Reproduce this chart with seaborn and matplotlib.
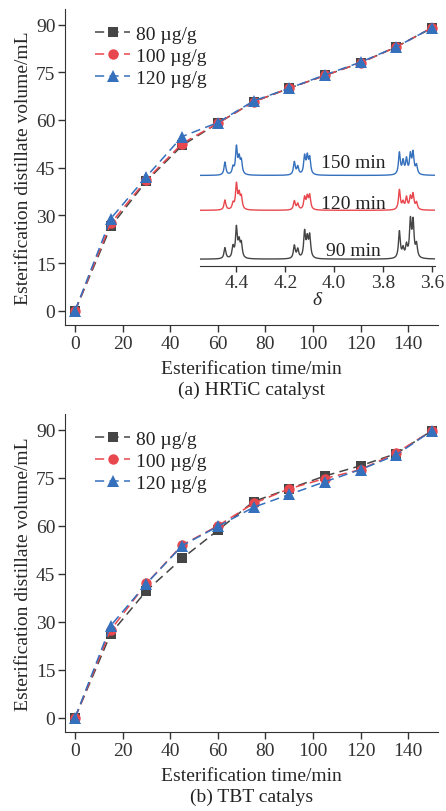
import numpy as np
import pandas as pd
import matplotlib
matplotlib.use("Agg")
import matplotlib.pyplot as plt
import seaborn as sns

# esterification data
time_min = [0, 15, 30, 45, 60, 75, 90, 105, 120, 135, 150]
labels = ['80 µg/g', '100 µg/g', '120 µg/g']
colors = ['#454545', '#e8474e', '#3570bd']
markers = ['s', 'o', '^']

hrtic_80 = [0, 26.5, 40.8, 52.0, 59.0, 65.7, 70.0, 74.0, 78.0, 83.0, 89.0]
hrtic_100 = [0, 27.5, 41.2, 52.6, 59.0, 65.7, 70.0, 74.0, 78.0, 83.0, 89.0]
hrtic_120 = [0, 29.0, 42.2, 54.8, 59.2, 66.0, 70.0, 74.2, 78.2, 83.0, 89.0]

tbt_80 = [0, 26.3, 39.7, 49.8, 58.6, 67.6, 71.6, 75.6, 78.8, 82.6, 89.8]
tbt_100 = [0, 27.5, 42.0, 54.0, 60.0, 67.0, 71.6, 74.8, 77.6, 82.8, 89.8]
tbt_120 = [0, 28.8, 41.9, 53.8, 59.8, 65.8, 69.8, 73.8, 77.6, 82.2, 89.8]

# inset 1H NMR peaks (ppm, height)
nmr_times = ['90 min', '120 min', '150 min']
peak_pos = [4.447, 4.414, 4.400, 4.389, 4.380, 4.163, 4.149, 4.121, 4.110, 4.100,
            3.733, 3.718, 3.704, 3.688, 3.677, 3.663]
h_90 = [11, 11, 30, 15, 14, 13, 9, 26, 18, 22, 27, 9, 12, 36, 35, 13]
h_120 = [10, 6, 25, 14, 12, 9, 6, 12, 12, 14, 20, 7, 12, 12, 15, 7]
h_150 = [13, 7, 27, 15, 13, 13, 8, 18, 17, 16, 22, 13, 15, 19, 21, 9]
nmr_heights = [h_90, h_120, h_150]
nmr_offsets = [0, 49, 84]


def spectrum(pos, heights, grid, hw=0.0045):
    y = np.zeros_like(grid)
    for p, h in zip(pos, heights):
        y += h / (1 + ((grid - p) / hw) ** 2)
    return y


FS = 14


def style_axes(ax):
    ax.set_xlim(-4.2, 152.5)
    ax.set_ylim(-4.5, 95)
    ax.set_xticks(range(0, 141, 20))
    ax.set_yticks(range(0, 91, 15))
    ax.spines['top'].set_visible(False)
    ax.spines['right'].set_visible(False)
    ax.tick_params(direction='out', length=5, width=1, labelsize=FS, colors='#333333', pad=2)
    ax.set_xlabel('Esterification time/min', fontsize=FS, labelpad=6)
    ax.set_ylabel('Esterification distillate volume/mL', fontsize=FS, labelpad=3)


def plot_panel(ax, series):
    for vals, lab, c, m in zip(series, labels, colors, markers):
        df = pd.DataFrame({'t': time_min, 'v': vals})
        ms = 8.5 if m == '^' else 7.5
        sns.lineplot(data=df, x='t', y='v', ax=ax, color=c, marker=m, markersize=ms,
                     markeredgewidth=0, linestyle=(0, (6, 3.5)), linewidth=1.1, label=lab)
    ax.legend(frameon=False, loc='upper left', bbox_to_anchor=(0.06, 0.972),
              handlelength=1.8, labelspacing=0.22, handletextpad=0.3,
              borderaxespad=0, fontsize=FS)
    style_axes(ax)


sns.set_style('ticks')
plt.rcParams['font.family'] = ['Liberation Serif', 'DejaVu Serif']
plt.rcParams['axes.edgecolor'] = '#333333'
plt.rcParams['text.color'] = '#222222'

fig = plt.figure(figsize=(4.46, 8.12), dpi=100)
ax1 = fig.add_axes([0.146, 0.5985, 0.836, 0.3895])
ax2 = fig.add_axes([0.146, 0.0973, 0.836, 0.3917])

plot_panel(ax1, [hrtic_80, hrtic_100, hrtic_120])
plot_panel(ax2, [tbt_80, tbt_100, tbt_120])

fig.text(0.563, 0.519, '(a) HRTiC catalyst', ha='center', va='center', fontsize=FS)
fig.text(0.563, 0.018, '(b) TBT catalys', ha='center', va='center', fontsize=FS)

# inset NMR
axin = fig.add_axes([0.448, 0.671, 0.527, 0.162])
grid = np.linspace(3.58, 4.56, 3000)
for heights, off, c, name in zip(nmr_heights, nmr_offsets, colors, nmr_times):
    y = spectrum(peak_pos, heights, grid) + off
    sns.lineplot(x=grid, y=y, ax=axin, color=c, linewidth=1.0, sort=False)
axin.text(3.923, 8.3, nmr_times[0], ha='center', va='center', fontsize=FS)
axin.text(3.923, 56, nmr_times[1], ha='center', va='center', fontsize=FS)
axin.text(3.923, 97, nmr_times[2], ha='center', va='center', fontsize=FS)
axin.set_xlim(4.55, 3.588)
axin.set_ylim(-7, 125)
axin.set_xticks([4.4, 4.2, 4.0, 3.8, 3.6])
axin.set_xticklabels(['4.4', '4.2', '4.0', '3.8', '3.6'])
axin.set_yticks([])
axin.patch.set_alpha(0)
for s in ['top', 'right', 'left']:
    axin.spines[s].set_visible(False)
axin.tick_params(direction='out', length=4, width=1, labelsize=FS, colors='#333333', pad=2)
axin.set_xlabel('δ', fontsize=FS, style='italic', labelpad=0)
axin.set_ylabel('')

fig.savefig('out.png', dpi=100)
